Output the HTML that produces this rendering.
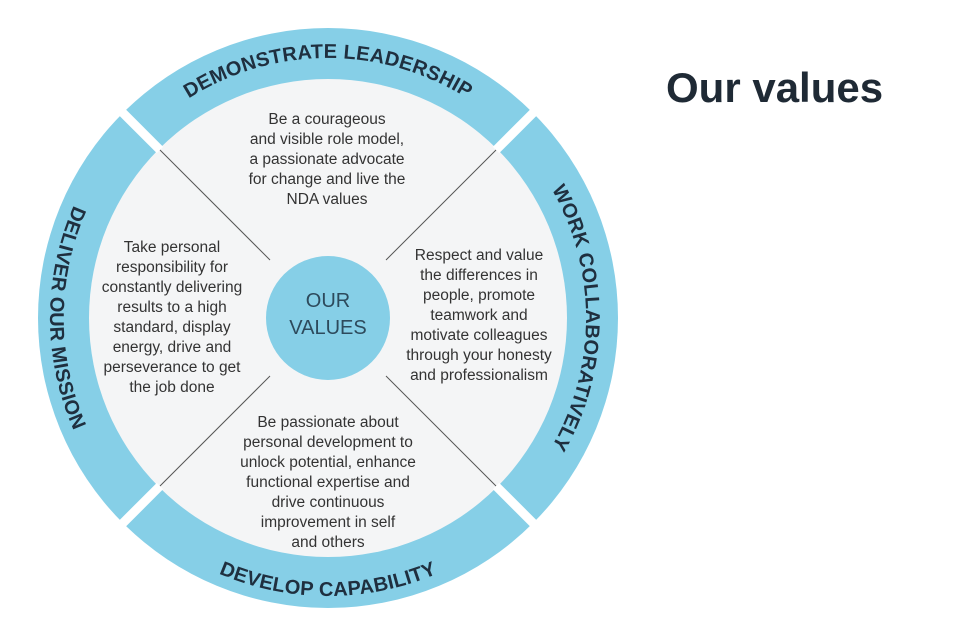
<!DOCTYPE html>
<html><head><meta charset="utf-8"><style>
body{margin:0;width:960px;height:640px;background:#fff;overflow:hidden;position:relative;font-family:"Liberation Sans",sans-serif}
h1{position:absolute;left:666px;top:64px;margin:0;font-size:42px;font-weight:bold;color:#1f2a35}
</style></head><body>
<svg width="960" height="640" style="position:absolute;left:0;top:0">
<defs>
<path id="pt" d="M68,318 A260,260 0 0 1 588,318"/>
<path id="pr" d="M328,60 A258,258 0 0 1 328,576"/>
<path id="pb" d="M50,318 A278,278 0 0 0 606,318"/>
<path id="pl" d="M328,40 A278,278 0 0 0 328,596"/>
</defs>
<circle cx="328" cy="318" r="290" fill="#86cfe7"/>
<circle cx="328" cy="318" r="239" fill="#f4f5f6"/>
<g stroke="#fff" stroke-width="9">
<line x1="160" y1="150" x2="110" y2="100"/>
<line x1="496" y1="150" x2="546" y2="100"/>
<line x1="160" y1="486" x2="110" y2="536"/>
<line x1="496" y1="486" x2="546" y2="536"/>
</g>
<circle cx="328" cy="318" r="239" fill="none" stroke="#f4f5f6" stroke-width="0"/>
<g stroke="#555" stroke-width="1">
<line x1="160" y1="150" x2="270" y2="260"/>
<line x1="496" y1="150" x2="386" y2="260"/>
<line x1="160" y1="486" x2="270" y2="376"/>
<line x1="496" y1="486" x2="386" y2="376"/>
</g>
<circle cx="328" cy="318" r="62" fill="#86cfe7"/>
<g font-size="20" fill="#1f2f3f" font-weight="bold" letter-spacing="0.3" style="font-family:'Liberation Sans',sans-serif">
<text><textPath href="#pt" startOffset="50%" text-anchor="middle">DEMONSTRATE LEADERSHIP</textPath></text>
<text><textPath href="#pr" startOffset="50%" text-anchor="middle">WORK COLLABORATIVELY</textPath></text>
<text><textPath href="#pb" startOffset="50%" text-anchor="middle">DEVELOP CAPABILITY</textPath></text>
<text><textPath href="#pl" startOffset="50%" text-anchor="middle">DELIVER OUR MISSION</textPath></text>
</g>
<g font-size="20" fill="#2d4a5c" text-anchor="middle">
<text x="328" y="307">OUR</text><text x="328" y="334">VALUES</text>
</g>
<g font-size="15.5" fill="#333" text-anchor="middle">
<text x="327" y="124">Be a courageous</text>
<text x="327" y="144">and visible role model,</text>
<text x="327" y="164">a passionate advocate</text>
<text x="327" y="184">for change and live the</text>
<text x="327" y="204">NDA values</text>
<text x="172" y="252">Take personal</text>
<text x="172" y="272">responsibility for</text>
<text x="172" y="292">constantly delivering</text>
<text x="172" y="312">results to a high</text>
<text x="172" y="332">standard, display</text>
<text x="172" y="352">energy, drive and</text>
<text x="172" y="372">perseverance to get</text>
<text x="172" y="392">the job done</text>
<text x="479" y="260">Respect and value</text>
<text x="479" y="280">the differences in</text>
<text x="479" y="300">people, promote</text>
<text x="479" y="320">teamwork and</text>
<text x="479" y="340">motivate colleagues</text>
<text x="479" y="360">through your honesty</text>
<text x="479" y="380">and professionalism</text>
<text x="328" y="427">Be passionate about</text>
<text x="328" y="447">personal development to</text>
<text x="328" y="467">unlock potential, enhance</text>
<text x="328" y="487">functional expertise and</text>
<text x="328" y="507">drive continuous</text>
<text x="328" y="527">improvement in self</text>
<text x="328" y="547">and others</text>
</g>
</svg>
<h1>Our values</h1>
</body></html>
